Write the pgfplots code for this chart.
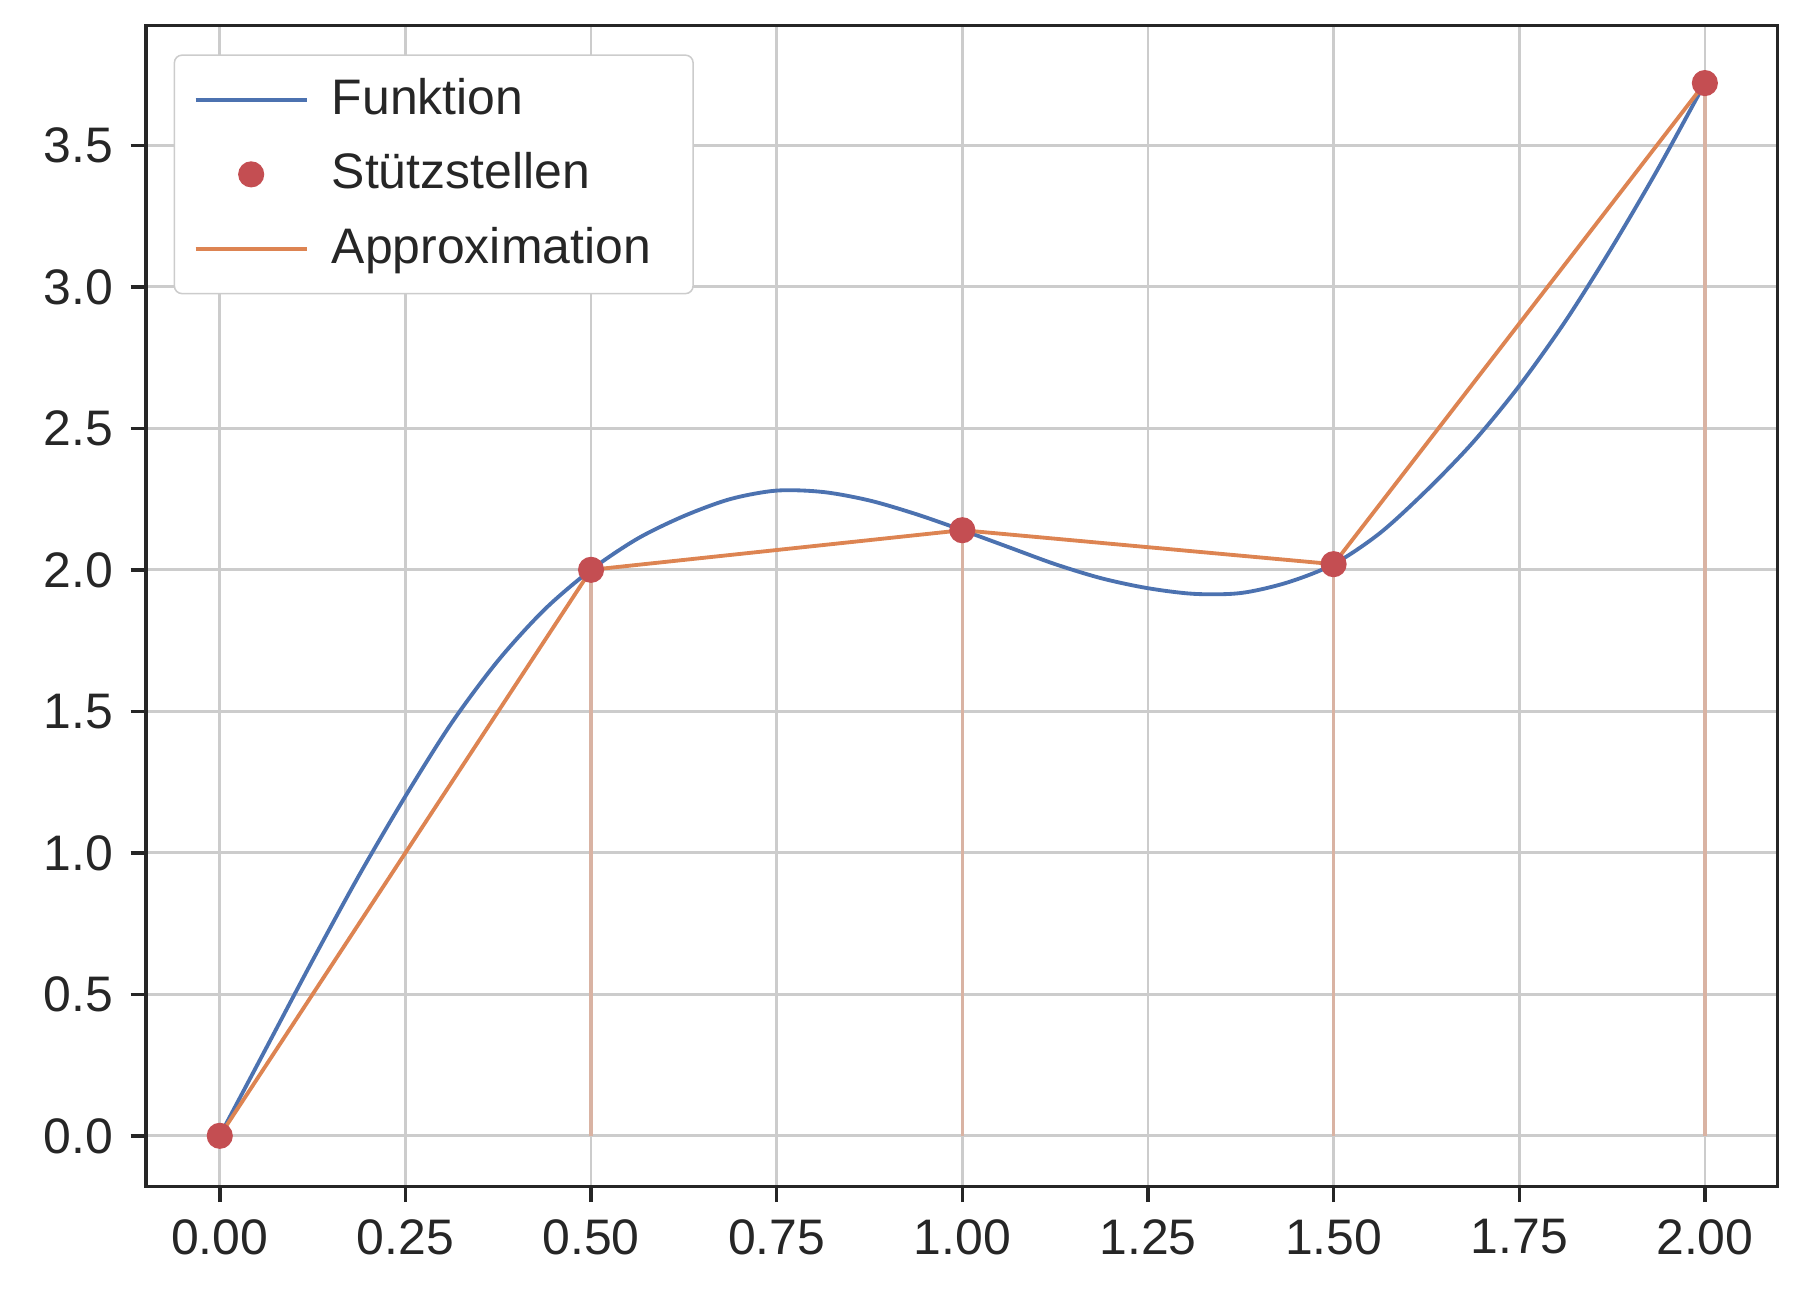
\documentclass[border=0pt]{standalone}
\usepackage{pgfplots}
\pgfplotsset{compat=1.18}
\usepackage{fontspec}
\setmainfont{Liberation Sans}
\definecolor{sbblue}{HTML}{4C72B0}
\definecolor{sborange}{HTML}{DD8452}
\definecolor{sbred}{HTML}{C44E52}
\definecolor{stem}{HTML}{D9B3A3}
\definecolor{axdark}{HTML}{262626}
\begin{document}
\fontsize{13}{15}\selectfont
\begin{tikzpicture}
\begin{axis}[name=ax, at={(0,0)}, anchor=south west,
  scale only axis, width=425pt, height=302.5pt,
  xmin=-0.0995, xmax=2.098, ymin=-0.18, ymax=3.924,
  xtick={0,0.25,...,2.0}, ytick={0,0.5,...,3.5},
  xticklabel style={/pgf/number format/.cd,fixed,fixed zerofill,precision=2},
  yticklabel style={/pgf/number format/.cd,fixed,fixed zerofill,precision=1},
  /pgf/number format/assume math mode=true,
  tick label style={font=\fontsize{13}{15}\selectfont, color=axdark},
  grid=major, major grid style={color=black!20, line width=0.7pt},
  axis line style={color=axdark, line width=0.9pt},
  tick style={color=axdark, line width=0.9pt}, tick align=outside, major tick length=4pt,
  xtick pos=bottom, ytick pos=left,
  legend style={at={(0.017,0.975)}, anchor=north west, draw=black!20, rounded corners=2pt,
    font=\fontsize{13}{15}\selectfont, text=axdark, row sep=4pt, inner xsep=5pt, inner ysep=4pt,
    nodes={inner xsep=6pt}},
  legend cell align=left,
  legend image code/.code={\draw[#1] (0pt,0pt) -- (29pt,0pt);},
]
\addplot[sbblue, line width=1pt, smooth, tension=0.5] coordinates {
(0,0) (0.0625,0.31) (0.125,0.62) (0.1875,0.92) (0.25,1.2) (0.3125,1.46) (0.375,1.68) (0.4375,1.86) (0.5,2.0)
(0.5625,2.11) (0.625,2.19) (0.6875,2.25) (0.75,2.28) (0.8125,2.275) (0.875,2.245) (0.9375,2.197) (1.0,2.14)
(1.0625,2.08) (1.125,2.02) (1.1875,1.97) (1.25,1.935) (1.3125,1.915) (1.375,1.918) (1.4375,1.955) (1.5,2.02)
(1.5625,2.13) (1.625,2.28) (1.6875,2.45) (1.75,2.65) (1.8125,2.88) (1.875,3.14) (1.9375,3.42) (2.0,3.72)};
\addlegendentry{Funktion}
\addplot[only marks, mark=*, mark size=3.2pt, color=sbred,
  legend image code/.code={\fill[sbred] (14.5pt,0pt) circle (3.2pt);}] coordinates {
(0,0) (0.5,2.0) (1.0,2.14) (1.5,2.02) (2.0,3.72)};
\addlegendentry{Stützstellen}
\addplot[sborange, line width=1pt] coordinates {
(0,0) (0.5,2.0) (1.0,2.14) (1.5,2.02) (2.0,3.72)};
\addlegendentry{Approximation}
\addplot[ycomb, color=stem, line width=0.9pt, forget plot] coordinates {
(0.5,2.0) (1.0,2.14) (1.5,2.02) (2.0,3.72)};
\end{axis}
\pgfresetboundingbox
\path (-38pt,-30.7pt) rectangle (431.6pt,309.1pt);
\end{tikzpicture}
\end{document}
